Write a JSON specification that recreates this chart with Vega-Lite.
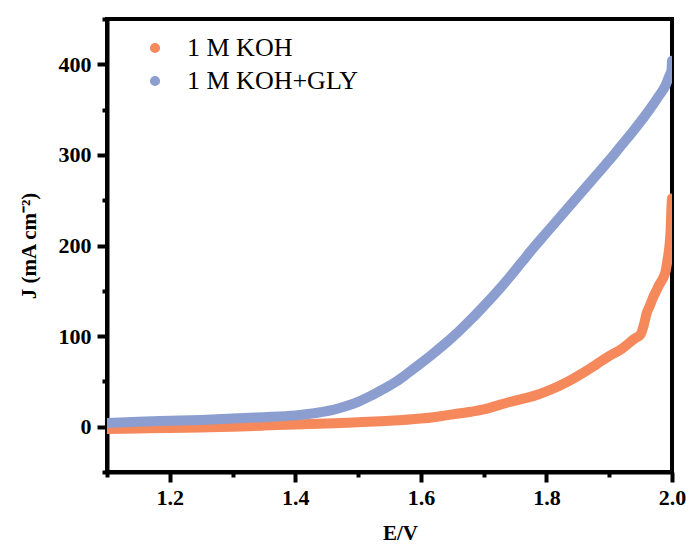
{
  "$schema": "https://vega.github.io/schema/vega-lite/v6.json",
  "width": 565,
  "height": 453,
  "autosize": "none",
  "padding": {"left": 107, "top": 19, "right": 19, "bottom": 72},
  "background": "white",
  "config": {
    "view": {"stroke": "black", "strokeWidth": 4},
    "font": "Liberation Serif",
    "axis": {
      "domainColor": "black",
      "domainWidth": 4,
      "tickColor": "black",
      "tickWidth": 4,
      "grid": false,
      "labelFont": "Liberation Serif",
      "labelFontWeight": "bold",
      "labelFontSize": 22,
      "labelColor": "black",
      "titleFont": "Liberation Serif",
      "titleFontWeight": "bold",
      "titleFontSize": 21,
      "titleColor": "black"
    }
  },
  "datasets": {
    "koh": [
      {"E": 1.10, "J": -2.5, "series": "1 M KOH"},
      {"E": 1.15, "J": -2.0, "series": "1 M KOH"},
      {"E": 1.20, "J": -1.5, "series": "1 M KOH"},
      {"E": 1.25, "J": -0.8, "series": "1 M KOH"},
      {"E": 1.30, "J": 0.0, "series": "1 M KOH"},
      {"E": 1.35, "J": 1.2, "series": "1 M KOH"},
      {"E": 1.40, "J": 2.5, "series": "1 M KOH"},
      {"E": 1.45, "J": 3.5, "series": "1 M KOH"},
      {"E": 1.50, "J": 5.0, "series": "1 M KOH"},
      {"E": 1.55, "J": 6.5, "series": "1 M KOH"},
      {"E": 1.60, "J": 9.0, "series": "1 M KOH"},
      {"E": 1.62, "J": 10.5, "series": "1 M KOH"},
      {"E": 1.64, "J": 12.5, "series": "1 M KOH"},
      {"E": 1.66, "J": 14.5, "series": "1 M KOH"},
      {"E": 1.68, "J": 16.5, "series": "1 M KOH"},
      {"E": 1.70, "J": 19.0, "series": "1 M KOH"},
      {"E": 1.72, "J": 23.0, "series": "1 M KOH"},
      {"E": 1.74, "J": 27.0, "series": "1 M KOH"},
      {"E": 1.76, "J": 30.5, "series": "1 M KOH"},
      {"E": 1.78, "J": 34.0, "series": "1 M KOH"},
      {"E": 1.80, "J": 39.0, "series": "1 M KOH"},
      {"E": 1.82, "J": 45.0, "series": "1 M KOH"},
      {"E": 1.84, "J": 52.0, "series": "1 M KOH"},
      {"E": 1.86, "J": 60.0, "series": "1 M KOH"},
      {"E": 1.88, "J": 69.0, "series": "1 M KOH"},
      {"E": 1.90, "J": 78.0, "series": "1 M KOH"},
      {"E": 1.92, "J": 86.0, "series": "1 M KOH"},
      {"E": 1.94, "J": 97.0, "series": "1 M KOH"},
      {"E": 1.95, "J": 102.0, "series": "1 M KOH"},
      {"E": 1.955, "J": 112.0, "series": "1 M KOH"},
      {"E": 1.96, "J": 126.0, "series": "1 M KOH"},
      {"E": 1.965, "J": 134.0, "series": "1 M KOH"},
      {"E": 1.97, "J": 143.0, "series": "1 M KOH"},
      {"E": 1.975, "J": 150.0, "series": "1 M KOH"},
      {"E": 1.98, "J": 157.0, "series": "1 M KOH"},
      {"E": 1.985, "J": 163.0, "series": "1 M KOH"},
      {"E": 1.99, "J": 172.0, "series": "1 M KOH"},
      {"E": 1.993, "J": 185.0, "series": "1 M KOH"},
      {"E": 1.996, "J": 200.0, "series": "1 M KOH"},
      {"E": 1.998, "J": 220.0, "series": "1 M KOH"},
      {"E": 1.999, "J": 240.0, "series": "1 M KOH"},
      {"E": 2.0, "J": 252.0, "series": "1 M KOH"}
    ],
    "gly": [
      {"E": 1.10, "J": 4.0, "series": "1 M KOH+GLY"},
      {"E": 1.15, "J": 5.5, "series": "1 M KOH+GLY"},
      {"E": 1.20, "J": 6.5, "series": "1 M KOH+GLY"},
      {"E": 1.25, "J": 7.5, "series": "1 M KOH+GLY"},
      {"E": 1.30, "J": 9.0, "series": "1 M KOH+GLY"},
      {"E": 1.35, "J": 10.5, "series": "1 M KOH+GLY"},
      {"E": 1.40, "J": 12.5, "series": "1 M KOH+GLY"},
      {"E": 1.42, "J": 14.0, "series": "1 M KOH+GLY"},
      {"E": 1.44, "J": 16.0, "series": "1 M KOH+GLY"},
      {"E": 1.46, "J": 18.5, "series": "1 M KOH+GLY"},
      {"E": 1.48, "J": 22.5, "series": "1 M KOH+GLY"},
      {"E": 1.50, "J": 27.5, "series": "1 M KOH+GLY"},
      {"E": 1.52, "J": 34.0, "series": "1 M KOH+GLY"},
      {"E": 1.54, "J": 41.5, "series": "1 M KOH+GLY"},
      {"E": 1.56, "J": 49.5, "series": "1 M KOH+GLY"},
      {"E": 1.58, "J": 59.5, "series": "1 M KOH+GLY"},
      {"E": 1.60, "J": 70.0, "series": "1 M KOH+GLY"},
      {"E": 1.62, "J": 81.0, "series": "1 M KOH+GLY"},
      {"E": 1.64, "J": 92.5, "series": "1 M KOH+GLY"},
      {"E": 1.66, "J": 105.0, "series": "1 M KOH+GLY"},
      {"E": 1.68, "J": 118.5, "series": "1 M KOH+GLY"},
      {"E": 1.70, "J": 133.0, "series": "1 M KOH+GLY"},
      {"E": 1.72, "J": 148.0, "series": "1 M KOH+GLY"},
      {"E": 1.74, "J": 164.0, "series": "1 M KOH+GLY"},
      {"E": 1.76, "J": 181.0, "series": "1 M KOH+GLY"},
      {"E": 1.78, "J": 198.0, "series": "1 M KOH+GLY"},
      {"E": 1.80, "J": 214.0, "series": "1 M KOH+GLY"},
      {"E": 1.82, "J": 230.0, "series": "1 M KOH+GLY"},
      {"E": 1.84, "J": 246.0, "series": "1 M KOH+GLY"},
      {"E": 1.86, "J": 262.0, "series": "1 M KOH+GLY"},
      {"E": 1.88, "J": 278.0, "series": "1 M KOH+GLY"},
      {"E": 1.90, "J": 294.0, "series": "1 M KOH+GLY"},
      {"E": 1.92, "J": 311.0, "series": "1 M KOH+GLY"},
      {"E": 1.94, "J": 328.0, "series": "1 M KOH+GLY"},
      {"E": 1.96, "J": 346.0, "series": "1 M KOH+GLY"},
      {"E": 1.98, "J": 366.0, "series": "1 M KOH+GLY"},
      {"E": 1.99, "J": 377.0, "series": "1 M KOH+GLY"},
      {"E": 1.995, "J": 386.0, "series": "1 M KOH+GLY"},
      {"E": 1.999, "J": 393.0, "series": "1 M KOH+GLY"},
      {"E": 2.0, "J": 404.0, "series": "1 M KOH+GLY"}
    ]
  },
  "encoding": {
    "x": {
      "field": "E",
      "type": "quantitative",
      "title": "E/V",
      "scale": {"domain": [1.1, 2.0], "nice": false, "zero": false},
      "axis": {
        "values": [1.1, 1.2, 1.3, 1.4, 1.5, 1.6, 1.7, 1.8, 1.9, 2.0],
        "labelExpr": "round(datum.value * 10) % 2 == 0 ? format(datum.value, '.1f') : ''",
        "tickSize": {"condition": {"test": "round(datum.value * 10) % 2 == 0", "value": 10}, "value": 5}, 
        "labelPadding": 5,
        "titlePadding": 14,
        "titleX": 293,
        "labelFlush": false
      }
    },
    "y": {
      "field": "J",
      "type": "quantitative",
      "title": "J (mA cm⁻²)",
      "scale": {"domain": [-50, 450], "nice": false, "zero": false},
      "axis": {
        "values": [-50, 0, 50, 100, 150, 200, 250, 300, 350, 400, 450],
        "labelExpr": "(datum.value % 100 == 0 && datum.value >= 0 && datum.value <= 400) ? format(datum.value, 'd') : ''",
        "tickSize": {"condition": {"test": "datum.value % 100 == 0", "value": 10}, "value": 5},
        "labelPadding": 6,
        "titlePadding": 19,
        "labelFlush": false
      }
    },
    "color": {
      "field": "series",
      "type": "nominal",
      "scale": {"domain": ["1 M KOH", "1 M KOH+GLY"], "range": ["#F6895B", "#8B9ECF"]},
      "legend": {
        "title": null,
        "orient": "none",
        "legendX": 35,
        "legendY": 16,
        "symbolType": "circle",
        "symbolSize": 75,
        "labelFont": "Liberation Serif",
        "labelFontSize": 26,
        "labelColor": "black",
        "labelLimit": 400,
        "labelOffset": 19,
        "rowPadding": 7,
        "padding": 0,
        "encode": {
          "symbols": {
            "update": {
              "fill": {"scale": "color", "field": "value"},
              "stroke": {"value": "transparent"}
            }
          }
        }
      }
    }
  },
  "layer": [
    {
      "data": {"name": "koh"},
      "mark": {"type": "line", "strokeWidth": 10, "strokeCap": "round", "strokeJoin": "round", "interpolate": "monotone", "clip": true}
    },
    {
      "data": {"name": "gly"},
      "mark": {"type": "line", "strokeWidth": 10, "strokeCap": "round", "strokeJoin": "round", "interpolate": "monotone", "clip": true}
    }
  ]
}
